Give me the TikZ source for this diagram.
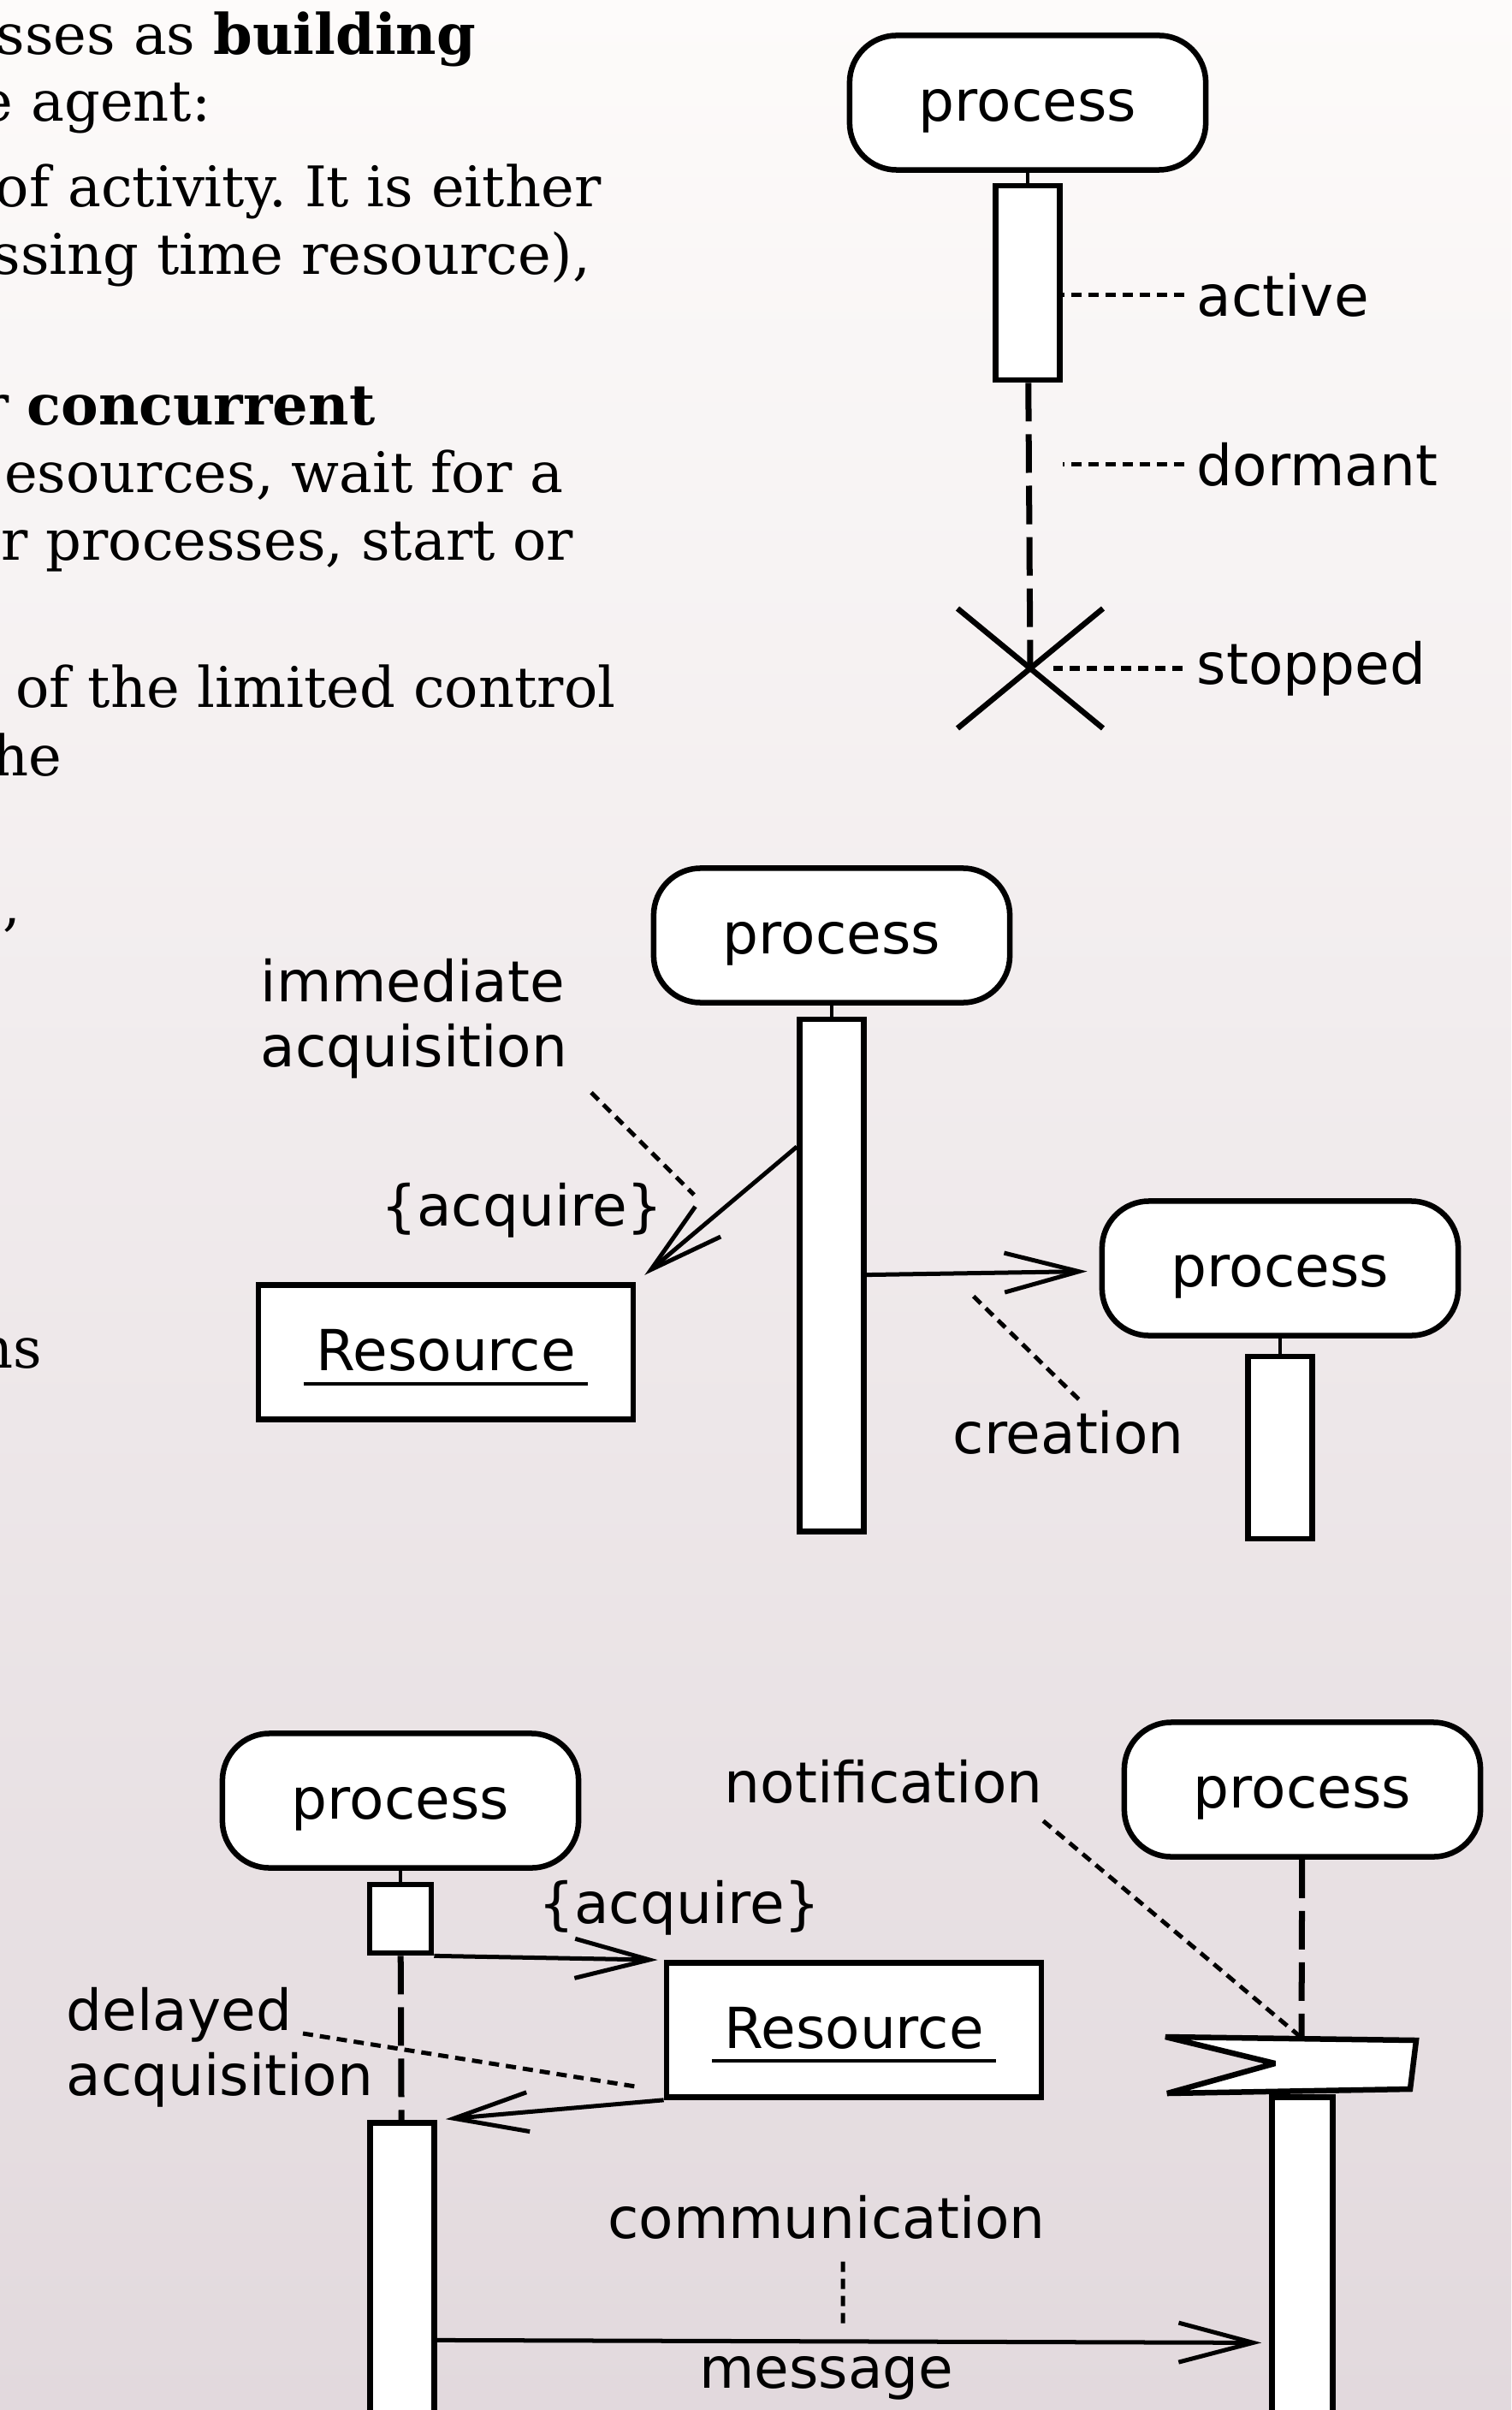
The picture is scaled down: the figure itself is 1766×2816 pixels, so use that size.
\documentclass[tikz,border=0pt]{standalone}
\usepackage{fontspec}
\setmainfont{DejaVu Serif}
\newfontfamily\diafont{DejaVu Sans}
\usetikzlibrary{positioning, arrows.meta}
\frenchspacing

\definecolor{bgtop}{RGB}{253,251,250}
\definecolor{bgmid}{RGB}{243,234,232}
\definecolor{bgbot}{RGB}{226,217,221}

\begin{document}
\begin{tikzpicture}[x=0.01cm, y=-0.01cm, >={Straight Barb[length=8.7mm,width=4.6mm]}]
  \tikzstyle{proc} = [draw, fill=white, rounded corners=0.55cm, line width=0.065cm, minimum width=4.16cm, minimum height=1.57cm, text height=0.6cm, text depth=0.18cm, font=\diafont\fontsize{18.8}{21.6}\selectfont]
  \tikzstyle{res} = [proc, rounded corners=0pt, minimum width=4.38cm]
  \tikzstyle{act} = [draw, fill=white, line width=0.065cm, minimum width=0.75cm, inner sep=0pt]
  \tikzstyle{lbl} = [inner sep=0pt, align=left, font=\diafont\fontsize{18.8}{21.6}\selectfont]
  \tikzstyle{txt} = [inner sep=0pt, anchor=base east, font=\fontsize{18.6}{22.4}\selectfont]
  \tikzstyle{note} = [line width=0.05cm, dash pattern=on 0.12cm off 0.08cm]
  \tikzstyle{life} = [line width=0.07cm, dash pattern=on 0.45cm off 0.15cm]
  \tikzstyle{stem} = [line width=0.045cm]
  \tikzstyle{msg} = [->, line width=0.05cm]
  \tikzstyle{tmp} = [coordinate]

  \useasboundingbox (0,0) rectangle (1766,2816);
  \shade[top color=bgtop, middle color=bgmid, bottom color=bgbot] (0,0) rectangle (1766,2816);
  \clip (0,0) rectangle (1766,2816);

  % slide text, cut at the left edge
  \node[txt] (t1) at (557,64) {sses as \textbf{building}};
  \node[txt] (t2) at (247,142) {e agent:};
  \node[txt] (t3) at (703,242) {of activity. It is either};
  \node[txt] (t4) at (691,321) {ssing time resource),};
  \node[txt] (t5) at (439,497) {r \textbf{concurrent}};
  \node[txt] (t6) at (659,576) {esources, wait for a};
  \node[txt] (t7) at (671,655) {r processes, start or};
  \node[txt] (t8) at (720,827) {of the limited control};
  \node[txt] (t9) at (73,906) {he};
  \node[txt] (t10) at (25,1080) {e,};
  \node[txt] (t11) at (50,1598) {ns};

  % process states
  \node[proc] (p1) at (1201,120) {process};
  \node[act, minimum height=2.27cm, below=0.12cm of p1] (a1) {};
  \node[tmp] (stop1) at (1204,781) {};
  \draw[stem] (p1) -- (a1);
  \draw[life] (a1) -- (stop1);
  \draw[line width=0.065cm] (stop1) ++(-85,-70) -- ++(170,140);
  \draw[line width=0.065cm] (stop1) ++(85,-70) -- ++(-170,140);
  \node[lbl, anchor=west] (actl) at (1398,345) {active};
  \node[lbl, anchor=west] (dorml) at (1398,543) {dormant};
  \node[lbl, anchor=west] (stopl) at (1398,781) {stopped};
  \draw[note, shorten <=0.14cm] (actl.west) -- (actl.west -| a1.east);
  \draw[note, shorten <=0.14cm] (dorml.west) -- (dorml.west -| a1.east);
  \draw[note, shorten <=0.16cm, shorten >=0.27cm] (stopl.west) -- (stopl.west -| stop1);

  % immediate acquisition and creation
  \node[proc] (p2) at (972,1093) {process};
  \node[act, minimum height=5.98cm, below=0.13cm of p2] (a2) {};
  \node[proc] (p3) at (1496,1482) {process};
  \node[act, minimum height=2.13cm, below=0.18cm of p3] (a3) {};
  \node[res] (r1) at (521,1580) {Resource};
  \draw[line width=0.04cm] ([xshift=-1.66cm,yshift=-0.37cm]r1.center) -- ([xshift=1.66cm,yshift=-0.37cm]r1.center);
  \draw[stem] (p2) -- (a2);
  \draw[stem] (p3) -- (a3);
  \draw[msg, shorten >=1.3mm] ([yshift=-1.52cm]a2.north west) -- (r1.north east);
  \draw[msg, shorten >=1.4mm] (a2) -- (p3);
  \node[lbl, anchor=base] (acq1) at (610,1432) {\{acquire\}};
  \node[lbl, anchor=west] (imml) at (304,1190) {immediate\\acquisition};
  \node[lbl, anchor=base west] (crel) at (1113,1698) {creation};
  \node[tmp] (immend) at (811,1396) {};
  \node[tmp] (creend) at (1137,1514) {};
  \draw[note] ([xshift=0.27cm,yshift=-0.16cm]imml.south east) -- (immend);
  \draw[note] ([xshift=0.12cm,yshift=0.12cm]crel.north) -- (creend);

  % delayed acquisition and communication
  \node[proc] (p4) at (468,2104) {process};
  \node[act, minimum width=0.72cm, minimum height=0.8cm, below=0.13cm of p4] (a4a) {};
  \node[act, minimum height=3.6cm, anchor=north] (a4b) at (470,2477) {};
  \node[res] (r2) at (998,2372) {Resource};
  \draw[line width=0.04cm] ([xshift=-1.66cm,yshift=-0.36cm]r2.center) -- ([xshift=1.66cm,yshift=-0.36cm]r2.center);
  \node[proc] (p5) at (1522,2091) {process};
  \node[act, minimum width=0.71cm, minimum height=3.9cm, anchor=north] (a5) at (1522,2447) {};
  \node[tmp] (fl1) at (1362,2380) {};
  \node[tmp] (fl2) at (1490,2411) {};
  \node[tmp] (fl3) at (1364,2446) {};
  \node[tmp] (fl4) at (1648,2441) {};
  \node[tmp] (fl5) at (1655,2384) {};
  \node[tmp] (fltop) at (1521,2381) {};
  \draw[line width=0.065cm, miter limit=3, fill=white] (fl1) -- (fl2) -- (fl3) -- (fl4) -- (fl5) -- cycle;
  \draw[stem] (p4) -- (a4a);
  \draw[life] (a4a) -- (a4b);
  \draw[life] (p5) -- (fltop);
  \draw[msg, shorten >=0.7mm] (a4a.south east) -- (r2.north west);
  \draw[msg, shorten >=1mm] (r2.south west) -- (a4b.north east);
  \draw[msg, shorten >=0.9mm] ([yshift=-0.74cm]a4b.east) -- ([yshift=-0.92cm]a5.west);
  \node[lbl, anchor=base] (acq2) at (794,2247) {\{acquire\}};
  \node[lbl, anchor=west] (dell) at (77,2392) {delayed\\acquisition};
  \node[lbl, anchor=base west] (notl) at (846,2106) {notification};
  \node[lbl, anchor=base] (coml) at (966,2615) {communication};
  \node[lbl, anchor=base] (msgl) at (966,2790) {message};
  \node[tmp] (del1) at (354,2376) {};
  \node[tmp] (del2) at (749,2439) {};
  \node[tmp] (comend) at (985,2716) {};
  \draw[note] (del1) -- (del2);
  \draw[note] ([yshift=-0.2cm]notl.south east) -- (fltop);
  \draw[note] ([xshift=0.19cm,yshift=-0.26cm]coml.south) -- (comend);
\end{tikzpicture}
\end{document}
